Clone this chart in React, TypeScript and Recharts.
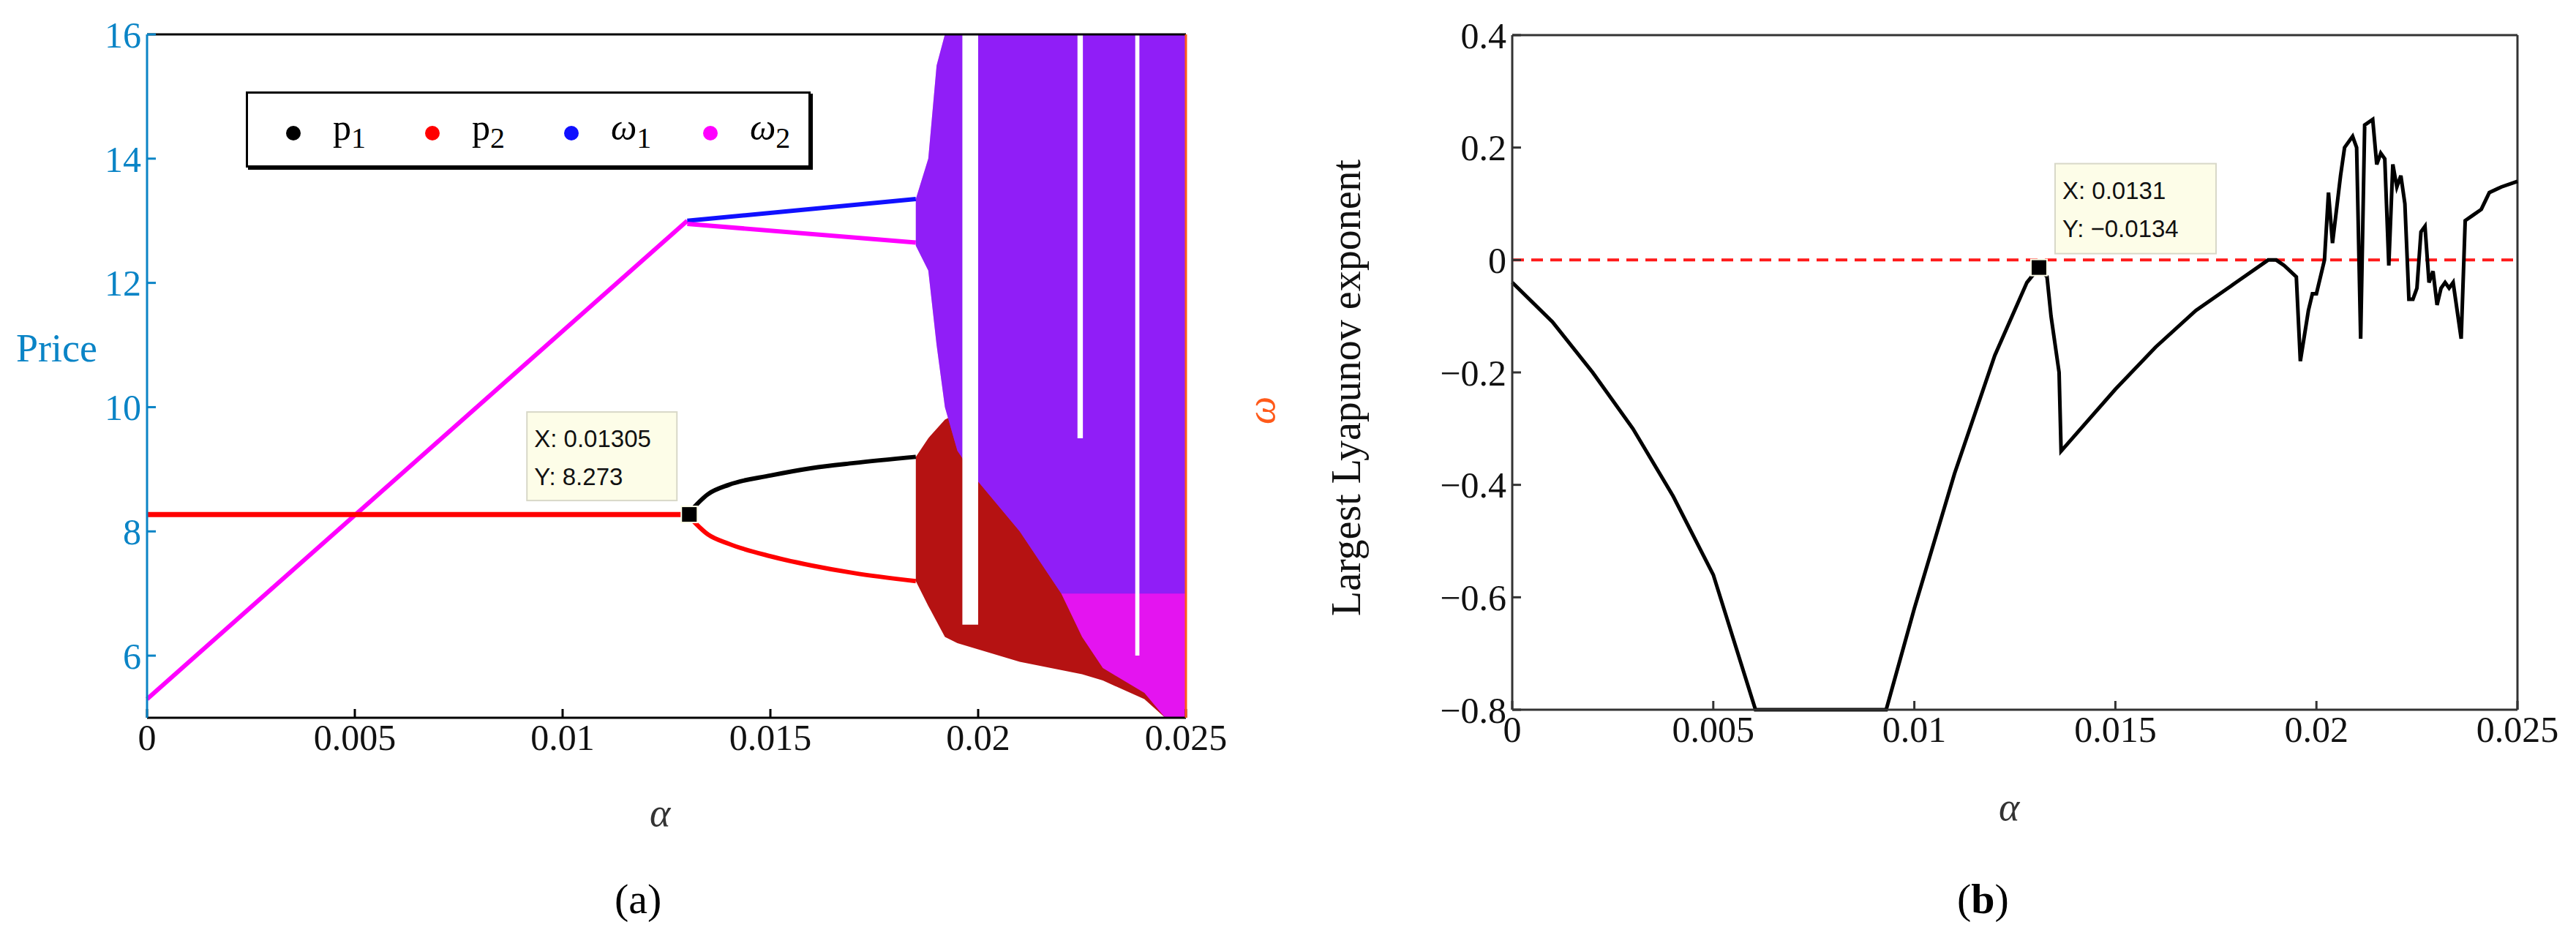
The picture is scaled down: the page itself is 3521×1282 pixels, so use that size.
import {
  ComposedChart,
  Line,
  Area,
  XAxis,
  YAxis,
  ReferenceLine,
  ReferenceDot,
  ReferenceArea,
} from "recharts";

// panel (a): alpha vs price (left axis), omega shown on right axis (same mapping)
const alphaTicks = [0, 0.005, 0.01, 0.015, 0.02, 0.025];
const priceTicks = [6, 8, 10, 12, 14, 16];
const omegaTicks = [0, 0.2, 0.4, 0.6, 0.8, 1, 1.2];

const omega2Rise = [
  { a: 0, v: 5.3 },
  { a: 0.013, v: 13.0 },
];
const omega1Branch = [
  { a: 0.013, v: 13.0 },
  { a: 0.0185, v: 13.35 },
];
const omega2Branch = [
  { a: 0.013, v: 12.95 },
  { a: 0.0185, v: 12.65 },
];
const priceFlat = [
  { a: 0, v: 8.27 },
  { a: 0.013, v: 8.27 },
];
const p1Branch = [
  { a: 0.013, v: 8.27 },
  { a: 0.0135, v: 8.6 },
  { a: 0.014, v: 8.75 },
  { a: 0.015, v: 8.9 },
  { a: 0.016, v: 9.02 },
  { a: 0.017, v: 9.1 },
  { a: 0.0185, v: 9.2 },
];
const p2Branch = [
  { a: 0.013, v: 8.27 },
  { a: 0.0135, v: 7.95 },
  { a: 0.014, v: 7.8 },
  { a: 0.015, v: 7.6 },
  { a: 0.016, v: 7.45 },
  { a: 0.017, v: 7.33 },
  { a: 0.0185, v: 7.2 },
];
// chaotic regions as [low, high] envelopes
const omegaChaos = [
  { a: 0.0185, lo: 12.6, hi: 13.35 },
  { a: 0.0188, lo: 12.2, hi: 14.0 },
  { a: 0.019, lo: 11.0, hi: 15.5 },
  { a: 0.0192, lo: 10.0, hi: 16 },
  { a: 0.0195, lo: 9.3, hi: 16 },
  { a: 0.02, lo: 8.8, hi: 16 },
  { a: 0.021, lo: 8.0, hi: 16 },
  { a: 0.022, lo: 7.0, hi: 16 },
  { a: 0.0225, lo: 6.3, hi: 16 },
  { a: 0.023, lo: 5.8, hi: 16 },
  { a: 0.024, lo: 5.4, hi: 16 },
  { a: 0.0245, lo: 5.0, hi: 16 },
  { a: 0.025, lo: 5.0, hi: 16 },
];
const priceChaos = [
  { a: 0.0185, lo: 7.2, hi: 9.2 },
  { a: 0.0188, lo: 6.8, hi: 9.5 },
  { a: 0.0192, lo: 6.3, hi: 9.8 },
  { a: 0.0195, lo: 6.2, hi: 9.9 },
  { a: 0.02, lo: 6.1, hi: 10.0 },
  { a: 0.021, lo: 5.9, hi: 10.1 },
  { a: 0.0225, lo: 5.7, hi: 10.3 },
  { a: 0.023, lo: 5.6, hi: 10.5 },
  { a: 0.024, lo: 5.3, hi: 10.5 },
  { a: 0.0245, lo: 5.0, hi: 10.2 },
  { a: 0.025, lo: 5.0, hi: 10.0 },
];
const windows = [
  { from: 0.01962, to: 0.02, lo: 6.5, hi: 16 },
  { from: 0.02239, to: 0.02252, lo: 9.5, hi: 16 },
  { from: 0.02378, to: 0.02388, lo: 6, hi: 16 },
];

// panel (b): largest Lyapunov exponent
const lyapTicks = [-0.8, -0.6, -0.4, -0.2, 0, 0.2, 0.4];
const lyap = [
  [0, -0.04], [0.001, -0.11], [0.002, -0.2], [0.003, -0.3], [0.004, -0.42],
  [0.005, -0.56], [0.00605, -0.8], [0.0093, -0.8], [0.01, -0.62], [0.011, -0.38],
  [0.012, -0.17], [0.0128, -0.04], [0.0131, -0.0134], [0.0133, -0.03], [0.0134, -0.1],
  [0.0136, -0.2], [0.01365, -0.34], [0.015, -0.23], [0.016, -0.155], [0.017, -0.09],
  [0.018, -0.04], [0.0188, 0], [0.019, 0], [0.0192, -0.01], [0.0195, -0.03],
  [0.0196, -0.18], [0.0198, -0.09], [0.0199, -0.06], [0.02, -0.06], [0.0202, 0],
  [0.0203, 0.12], [0.0204, 0.03], [0.0206, 0.15], [0.0207, 0.2], [0.0209, 0.22],
  [0.021, 0.2], [0.0211, -0.14], [0.0212, 0.24], [0.0214, 0.25], [0.0215, 0.17],
  [0.0216, 0.19], [0.0217, 0.18], [0.0218, -0.01], [0.0219, 0.17], [0.022, 0.13],
  [0.0221, 0.15], [0.0222, 0.1], [0.0223, -0.07], [0.0224, -0.07], [0.0225, -0.05],
  [0.0226, 0.05], [0.0227, 0.06], [0.0228, -0.04], [0.0229, -0.02], [0.023, -0.08],
  [0.0231, -0.05], [0.0232, -0.04], [0.0233, -0.05], [0.0234, -0.04], [0.0236, -0.14],
  [0.0237, 0.07], [0.0239, 0.08], [0.0241, 0.09], [0.0243, 0.12], [0.0246, 0.13],
  [0.025, 0.14],
].map(([a, v]) => ({ a, v }));

const serif = "'Liberation Serif', 'DejaVu Serif', serif";
const sans = "'Liberation Sans', Arial, sans-serif";
const blue = "#0a84c6";
const orange = "#ff5a1a";

const tipBox = (dx: number, dy: number, w: number, h: number, lines: string[]) =>
  (props: any) => {
    const { cx, cy } = props;
    return (
      <g>
        <rect x={cx + dx} y={cy + dy} width={w} height={h} fill="#fdfde8" stroke="#d8d8c8" strokeWidth={2} />
        {lines.map((t, i) => (
          <text key={i} x={cx + dx + 10} y={cy + dy + 48 + i * 52} fontFamily={sans} fontSize={33} fill="#111">
            {t}
          </text>
        ))}
        <rect x={cx - 11} y={cy - 11} width={22} height={22} fill="#000" stroke="#fdfde8" strokeWidth={2} />
      </g>
    );
  };

const tick = (color: string) => ({ fontFamily: serif, fontSize: 50, fill: color });

function PanelA() {
  return (
    <ComposedChart
      width={1760}
      height={1282}
      margin={{ top: 47, right: 59, bottom: 221, left: 121 }}
    >
      <XAxis
        type="number"
        dataKey="a"
        domain={[0, 0.025]}
        ticks={alphaTicks}
        allowDuplicatedCategory={false}
        tick={tick("#111")}
        tickMargin={20}
        height={80}
        stroke="#000"
        strokeWidth={3}
        tickSize={-12}
      />
      <YAxis
        yAxisId="p"
        type="number"
        domain={[5, 16]}
        ticks={priceTicks}
        tick={tick(blue)}
        width={80}
        stroke={blue}
        strokeWidth={3}
        tickSize={-12}
        tickMargin={20}
      />
      <YAxis
        yAxisId="w"
        orientation="right"
        type="number"
        domain={[0, 1.2]}
        ticks={omegaTicks}
        tick={tick(orange)}
        width={80}
        stroke={orange}
        strokeWidth={3}
        tickSize={-12}
        tickMargin={20}
      />
      <ReferenceLine yAxisId="p" y={16} stroke="#000" strokeWidth={3} />
      <Area yAxisId="p" data={priceChaos} dataKey={(d: any) => [d.lo, d.hi]} stroke="none" fill="#b51212" fillOpacity={1} isAnimationActive={false} type="linear" />
      <Area yAxisId="p" data={omegaChaos} dataKey={(d: any) => [d.lo, d.hi]} stroke="none" fill="#e414f0" fillOpacity={1} isAnimationActive={false} type="linear" />
      <Area yAxisId="p" data={omegaChaos} dataKey={(d: any) => [Math.max(d.lo, 7), d.hi]} stroke="none" fill="#2a2aff" fillOpacity={0.45} isAnimationActive={false} type="linear" />
      {windows.map((w, i) => (
        <ReferenceArea key={i} yAxisId="p" x1={w.from} x2={w.to} y1={w.lo} y2={w.hi} fill="#fff" fillOpacity={1} stroke="none" />
      ))}
      <Line yAxisId="p" data={omega2Rise} dataKey="v" stroke="#ff00ff" strokeWidth={6} dot={false} isAnimationActive={false} />
      <Line yAxisId="p" data={omega1Branch} dataKey="v" stroke="#1010ff" strokeWidth={6} dot={false} isAnimationActive={false} />
      <Line yAxisId="p" data={omega2Branch} dataKey="v" stroke="#ff00ff" strokeWidth={6} dot={false} isAnimationActive={false} />
      <Line yAxisId="p" data={priceFlat} dataKey="v" stroke="#ff0000" strokeWidth={7} dot={false} isAnimationActive={false} />
      <Line yAxisId="p" data={p1Branch} dataKey="v" stroke="#000" strokeWidth={6} dot={false} isAnimationActive={false} type="monotone" />
      <Line yAxisId="p" data={p2Branch} dataKey="v" stroke="#ff0000" strokeWidth={6} dot={false} isAnimationActive={false} type="monotone" />
      <ReferenceDot
        yAxisId="p"
        x={0.01305}
        y={8.273}
        shape={tipBox(-222, -140, 205, 121, ["X: 0.01305", "Y: 8.273"])}
      />
    </ComposedChart>
  );
}

function PanelB() {
  return (
    <ComposedChart
      width={1761}
      height={1282}
      margin={{ top: 48, right: 80, bottom: 232, left: 227 }}
      data={lyap}
    >
      <XAxis
        type="number"
        dataKey="a"
        domain={[0, 0.025]}
        ticks={alphaTicks}
        tick={tick("#111")}
        tickMargin={20}
        height={80}
        stroke="#333"
        strokeWidth={3}
        tickSize={-12}
      />
      <YAxis
        type="number"
        domain={[-0.8, 0.4]}
        ticks={lyapTicks}
        tickFormatter={(v: number) => (v < 0 ? "\u2212" + Math.abs(v) : String(v))}
        tick={tick("#111")}
        width={80}
        stroke="#333"
        strokeWidth={3}
        tickSize={-12}
        tickMargin={20}
      />
      <ReferenceLine y={0.4} stroke="#333" strokeWidth={3} />
      <ReferenceLine x={0.025} stroke="#333" strokeWidth={3} />
      <ReferenceLine y={0} stroke="#ff1a1a" strokeWidth={4} strokeDasharray="16 10" />
      <Line dataKey="v" stroke="#000" strokeWidth={5} dot={false} isAnimationActive={false} type="linear" />
      <ReferenceDot
        x={0.0131}
        y={-0.0134}
        shape={tipBox(22, -142, 220, 123, ["X: 0.0131", "Y: \u22120.0134"])}
      />
    </ComposedChart>
  );
}

const abs = (left: number, top: number, extra: any = {}) => ({
  position: "absolute" as const,
  left,
  top,
  fontFamily: serif,
  whiteSpace: "nowrap" as const,
  ...extra,
});

const legendItems = [
  { color: "#000", base: "p", sub: "1", italic: false },
  { color: "#ff0000", base: "p", sub: "2", italic: false },
  { color: "#1010ff", base: "\u03c9", sub: "1", italic: true },
  { color: "#ff00ff", base: "\u03c9", sub: "2", italic: true },
];

export default function App() {
  return (
    <div style={{ position: "absolute", left: 0, top: 0, width: 3521, height: 1282, background: "#fff", overflow: "hidden" }}>
      <div style={abs(0, 0)}>
        <PanelA />
      </div>
      <div style={abs(1760, 0)}>
        <PanelB />
      </div>
      {/* legend of panel (a) */}
      <div
        style={abs(336, 125, {
          width: 766,
          height: 98,
          border: "3px solid #000",
          boxShadow: "3px 3px 0 #000",
          background: "#fff",
        })}
      >
        {legendItems.map((it, i) => (
          <div key={i} style={{ position: "absolute", left: 52 + i * 190, top: 18, display: "flex", alignItems: "center" }}>
            <span style={{ width: 20, height: 20, borderRadius: 10, background: it.color, display: "inline-block", marginRight: 44 }} />
            <span style={{ fontSize: 50, fontStyle: it.italic ? "italic" : "normal", lineHeight: "56px" }}>
              {it.base}
              <sub style={{ fontSize: 40, fontStyle: "normal" }}>{it.sub}</sub>
            </span>
          </div>
        ))}
      </div>
      <div style={abs(22, 445, { fontSize: 54, color: blue })}>Price</div>
      <div style={abs(1705, 530, { fontSize: 54, color: orange, fontStyle: "italic", transform: "rotate(-90deg)" })}>ω</div>
      <div style={abs(888, 1080, { fontSize: 54, fontStyle: "italic", color: "#333" })}>α</div>
      <div style={abs(2732, 1072, { fontSize: 54, fontStyle: "italic", color: "#333" })}>α</div>
      <div style={abs(1840, 530, { fontSize: 56, color: "#111", transform: "translate(-50%, -50%) rotate(-90deg)" })}>
        Largest Lyapunov exponent
      </div>
      <div style={abs(840, 1195, { fontSize: 58 })}>(a)</div>
      <div style={abs(2675, 1195, { fontSize: 58 })}>(
        <b>b</b>)
      </div>
    </div>
  );
}
